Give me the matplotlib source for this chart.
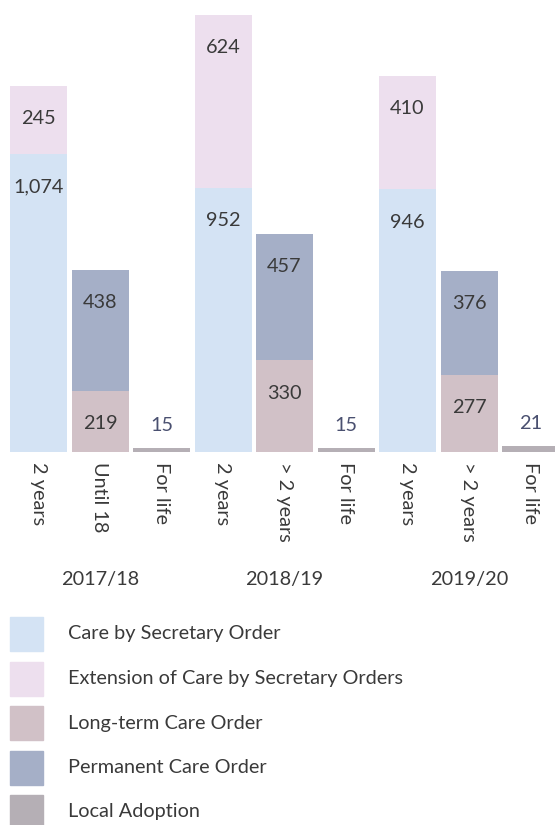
import matplotlib
matplotlib.use("Agg")
import matplotlib.pyplot as plt
from matplotlib.patches import Rectangle

plt.rcParams['font.family'] = ['Lato', 'DejaVu Sans']

years = ["2017/18", "2018/19", "2019/20"]
tick_labels = ["2 years", "Until 18", "For life", "2 years", "> 2 years", "For life", "2 years", "> 2 years", "For life"]
series_names = ["Care by Secretary Order", "Extension of Care by Secretary Orders",
                "Long-term Care Order", "Permanent Care Order", "Local Adoption"]
colors = ["#D4E3F4", "#EDDFEE", "#D1C1C7", "#A5AFC7", "#B5AFB5"]

care_secretary = [1074, 952, 946]
extension_care = [245, 624, 410]
long_term = [219, 330, 277]
permanent = [438, 457, 376]
local_adoption = [15, 15, 21]

fig = plt.figure(figsize=(5.55, 8.25), dpi=100)
ax = fig.add_axes([0, (825 - 452) / 825, 1, 452 / 825])
ax.set_xlim(-38.5 / 61.5, (555 - 38.5) / 61.5)
ax.set_ylim(0, 452 / 0.2775)
for s in ax.spines.values():
    s.set_visible(False)
ax.set_yticks([])

w = 57 / 61.5
xa = [0, 3, 6]
xb = [1, 4, 7]
xc = [2, 5, 8]
tc = "#3a3a3a"
fs = 14.3
fw = "normal"

def label_in(bars, vals):
    for b, v in zip(bars, vals):
        ax.annotate(f"{v:,}", (b.get_x() + b.get_width() / 2, b.get_y() + b.get_height()),
                    xytext=(0, -23.5), textcoords="offset points", ha="center", va="center",
                    fontsize=fs, color=tc, fontweight=fw)

b1 = ax.bar(xa, care_secretary, w, color=colors[0])
b2 = ax.bar(xa, extension_care, w, bottom=care_secretary, color=colors[1])
b3 = ax.bar(xb, long_term, w, color=colors[2])
b4 = ax.bar(xb, permanent, w, bottom=long_term, color=colors[3])
b5 = ax.bar(xc, local_adoption, w, color=colors[4])
label_in(b1, care_secretary)
label_in(b2, extension_care)
label_in(b3, long_term)
label_in(b4, permanent)
for b, v in zip(b5, local_adoption):
    ax.annotate(f"{v:,}", (b.get_x() + b.get_width() / 2, b.get_height()),
                xytext=(0, 16), textcoords="offset points", ha="center", va="center",
                fontsize=fs, color="#4A5070", fontweight=fw)

ax.set_xticks(range(9))
ax.set_xticklabels(tick_labels, rotation=270, fontsize=fs, color=tc, fontweight=fw)
ax.tick_params(axis="x", length=0, pad=7)
for i, y in enumerate(years):
    ax.text(xb[i], -128 / 0.2775, y, ha="center", va="center", fontsize=fs, color=tc,
            fontweight=fw)

# legend
for i, name in enumerate(series_names):
    yc = 634 + i * 44.5
    fig.patches.append(Rectangle((10 / 555, 1 - (yc + 17) / 825), 33 / 555, 34 / 825,
                                 transform=fig.transFigure, color=colors[i], figure=fig))
    fig.text(68 / 555, 1 - yc / 825, name, ha="left", va="center", fontsize=fs, color=tc,
             fontweight=fw)

fig.savefig("out.png", dpi=100)
